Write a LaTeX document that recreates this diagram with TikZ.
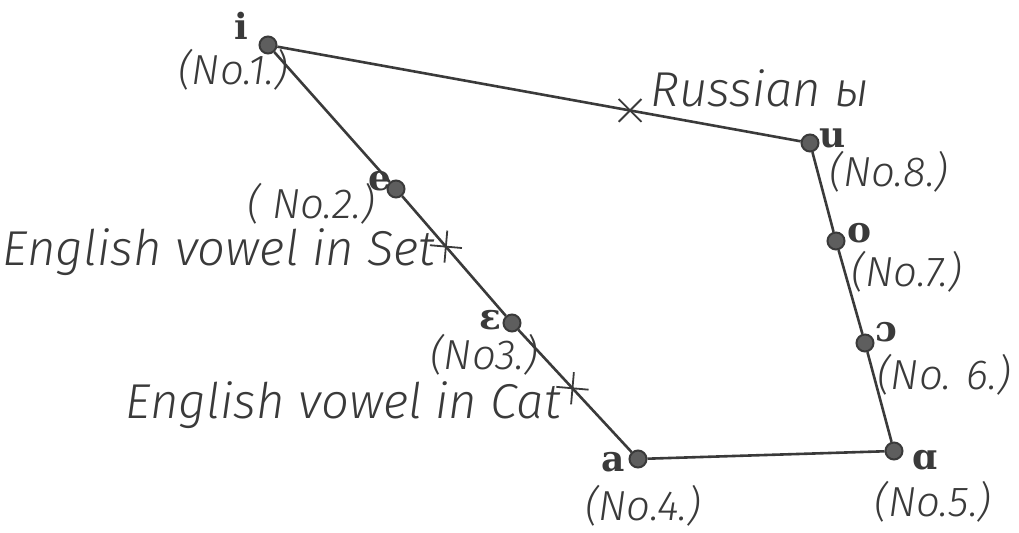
\documentclass[tikz,border=0pt]{standalone}
\usepackage{fontspec}
\setmainfont{Fira Sans}
\newfontfamily\hand{Fira Sans Light Italic}
\newfontfamily\ipa{DejaVu Serif}
\usetikzlibrary{calc,shapes.misc}
\definecolor{ink}{HTML}{3a3a3a}
\definecolor{dotgray}{HTML}{5e5e5e}
\tikzset{vdot/.style={circle, draw=ink, fill=dotgray, line width=1pt, inner sep=0pt, minimum size=8.5pt},
         sym/.style={font=\ipa\bfseries\fontsize{18}{18}\selectfont, text=ink, inner sep=0pt},
         num/.style={font=\hand\fontsize{21}{21}\selectfont, text=ink, inner sep=0pt},
         note/.style={font=\hand\fontsize{24.5}{24.5}\selectfont, text=ink, inner sep=0pt},
         crossx/.style={cross out, draw=ink, line width=0.9pt, minimum size=10.5pt, inner sep=0pt},
         side/.style={ink, line width=1.3pt}}

\begin{document}
\begin{tikzpicture}[x=0.5pt,y=-0.5pt]
\useasboundingbox (0,0) rectangle (1019,533);
% vowel points
\node[vdot] (i) at (268,45) {};
\node[vdot] (e) at (396,189) {};
\node[vdot] (eps) at (512,323) {};
\node[vdot] (a) at (638,459) {};
\node[vdot] (aa) at (894,451) {};
\node[vdot] (oo) at (865,343) {};
\node[vdot] (o) at (836,241) {};
\node[vdot] (u) at (810,143) {};
% sides of the figure
\draw[side] (i) -- (u) -- (o) -- (oo) -- (aa) -- (a) -- (eps) -- (e) -- (i);
% crosses
\node[crossx] (ru) at ($(i)!0.668!(u)$) {};
\node[crossx, rotate=40] (set) at ($(e)!0.43!(eps)$) {};
\node[crossx, rotate=40] (cat) at ($(eps)!0.48!(a)$) {};
% symbols and numbers
\node[sym] (li) at (241,26) {i};
\node[num] (ni) at (233,70) {(No.1.)};
\node[sym] (lu) at (833,138) {u};
\node[num] (nu) at (889,172) {(No.8.)};
\node[sym] (le) at (380,181) {e};
\node[num] (ne) at (311,204) {( No.2.)};
\node[sym] (lo) at (860,233) {o};
\node[num] (no) at (907,272) {(No.7.)};
\node[sym] (leps) at (490,320) {ɛ};
\node[num] (neps) at (484,355) {(No3.)};
\node[sym] (loo) at (886,332) {ɔ};
\node[num] (noo) at (944,375) {(No. 6.)};
\node[sym] (la) at (613,462) {a};
\node[num] (na) at (643,506) {(No.4.)};
\node[sym] (laa) at (925,460) {ɑ};
\node[num] (naa) at (933,502) {(No.5.)};
% notes at the crosses
\node[note, anchor=east] (tset) at (436,252) {English vowel in Set};
\node[note, anchor=east] (tcat) at (561,405) {English vowel in Cat};
\node[note, anchor=west] (tru) at (650,88) {Russian ы};
\end{tikzpicture}
\end{document}
